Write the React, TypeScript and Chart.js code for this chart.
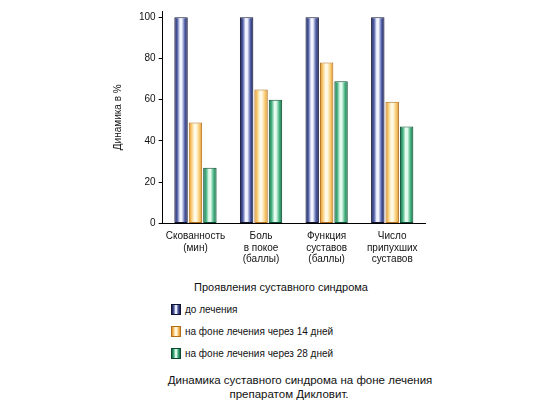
import React, { useEffect, useRef } from "react";
import { Chart, registerables } from "chart.js";

Chart.register(...registerables);

const categories: string[][] = [
  ["Скованность", "(мин)"],
  ["Боль", "в покое", "(баллы)"],
  ["Функция", "суставов", "(баллы)"],
  ["Число", "припухших", "суставов"],
];
const beforeTreatment = [100, 100, 100, 100];
const after14Days = [49, 65, 78, 59];
const after28Days = [27, 60, 69, 47];
const seriesNames = [
  "до лечения",
  "на фоне лечения через 14 дней",
  "на фоне лечения через 28 дней",
];
const yTicks = [0, 20, 40, 60, 80, 100];
const yTitle = "Динамика в %";
const legendTitle = "Проявления суставного синдрома";
const captionLines = [
  "Динамика суставного синдрома на фоне лечения",
  "препаратом Дикловит.",
];

const palettes = [
  { dark: "#161b50", mid: "#5260a8", light: "#f2f5ff", border: "#10132e" },
  { dark: "#e08f28", mid: "#f9cf78", light: "#fffae8", border: "#b06c18" },
  { dark: "#136a44", mid: "#48b583", light: "#e6fbf0", border: "#0c4a2f" },
];

const FONT = "'Liberation Sans', Arial, Helvetica, sans-serif";

const cssGradient = (p: { dark: string; mid: string; light: string }) =>
  `linear-gradient(to right, ${p.dark} 0%, ${p.mid} 25%, ${p.light} 45%, ${p.light} 55%, ${p.mid} 75%, ${p.dark} 100%)`;

const gradientPlugin = {
  id: "cylGradient",
  beforeDatasetsDraw(chart: any) {
    const ctx = chart.ctx;
    chart.data.datasets.forEach((ds: any, di: number) => {
      const meta = chart.getDatasetMeta(di);
      const p = palettes[di];
      meta.data.forEach((el: any) => {
        if (el.x == null || el.width == null) return;
        const x0 = el.x - el.width / 2;
        const x1 = el.x + el.width / 2;
        const g = ctx.createLinearGradient(x0, 0, x1, 0);
        g.addColorStop(0, p.dark);
        g.addColorStop(0.22, p.mid);
        g.addColorStop(0.42, p.light);
        g.addColorStop(0.55, p.light);
        g.addColorStop(0.78, p.mid);
        g.addColorStop(1, p.dark);
        el.options = { ...el.options, backgroundColor: g };
      });
    });
  },
};

export default function App() {
  const canvasRef = useRef<HTMLCanvasElement | null>(null);

  useEffect(() => {
    if (!canvasRef.current) return;
    const series = [beforeTreatment, after14Days, after28Days];
    const chart = new Chart(canvasRef.current, {
      type: "bar",
      data: {
        labels: categories,
        datasets: series.map((d, i) => ({
          label: seriesNames[i],
          data: d,
          backgroundColor: palettes[i].mid,
          borderColor: palettes[i].border,
          borderWidth: 1,
          borderSkipped: false,
          categoryPercentage: 0.66,
          barPercentage: 0.93,
        })),
      },
      options: {
        responsive: false,
        animation: false,
        events: [],
        layout: { padding: { left: 112, right: 125, top: 11, bottom: 0 } },
        plugins: {
          legend: { display: false },
          tooltip: { enabled: false },
          title: { display: false },
        },
        scales: {
          x: {
            grid: { display: false, drawTicks: false },
            border: { display: true, color: "#000", width: 1 },
            ticks: {
              padding: 7,
              color: "#111",
              maxRotation: 0,
              autoSkip: false,
              font: { family: FONT, size: 10, lineHeight: 1.15 },
            },
          },
          y: {
            min: 0,
            max: 103,
            afterBuildTicks: (scale: any) => {
              scale.ticks = yTicks.map((v) => ({ value: v }));
            },
            grid: {
              display: true,
              drawOnChartArea: false,
              drawTicks: true,
              tickLength: 4,
              tickColor: "#000",
            },
            border: { display: true, color: "#000", width: 1 },
            ticks: {
              padding: 3,
              color: "#111",
              font: { family: FONT, size: 10 },
            },
            title: {
              display: true,
              text: yTitle,
              color: "#111",
              font: { family: FONT, size: 10 },
              padding: { top: 0, bottom: 12 },
            },
          },
        },
      },
      plugins: [gradientPlugin],
    });
    return () => chart.destroy();
  }, []);

  const legendRowTops = [304, 326, 348];

  return (
    <div
      style={{
        position: "fixed",
        left: 0,
        top: 0,
        width: 550,
        height: 411,
        background: "#fff",
        fontFamily: FONT,
        color: "#111",
      }}
    >
      <canvas
        ref={canvasRef}
        width={550}
        height={272}
        style={{ position: "absolute", left: 0, top: 0, width: 550, height: 272 }}
      />
      <div
        style={{
          position: "absolute",
          left: 131,
          width: 300,
          top: 280,
          textAlign: "center",
          fontSize: 11,
          lineHeight: "14px",
        }}
      >
        {legendTitle}
      </div>
      {seriesNames.map((name, i) => (
        <div
          key={name}
          style={{
            position: "absolute",
            left: 171,
            top: legendRowTops[i],
            height: 11,
            display: "flex",
            alignItems: "center",
            fontSize: 10,
            whiteSpace: "nowrap",
          }}
        >
          <span
            style={{
              display: "inline-block",
              width: 8,
              height: 9,
              border: `1px solid ${palettes[i].border}`,
              background: cssGradient(palettes[i]),
              marginRight: 4,
            }}
          />
          <span>{name}</span>
        </div>
      ))}
      <div
        style={{
          position: "absolute",
          left: 150,
          width: 300,
          top: 373,
          textAlign: "center",
          fontSize: 11.5,
          lineHeight: "14px",
        }}
      >
        {captionLines[0]}
      </div>
      <div
        style={{
          position: "absolute",
          left: 139,
          width: 300,
          top: 387,
          textAlign: "center",
          fontSize: 11.5,
          lineHeight: "14px",
        }}
      >
        {captionLines[1]}
      </div>
    </div>
  );
}
